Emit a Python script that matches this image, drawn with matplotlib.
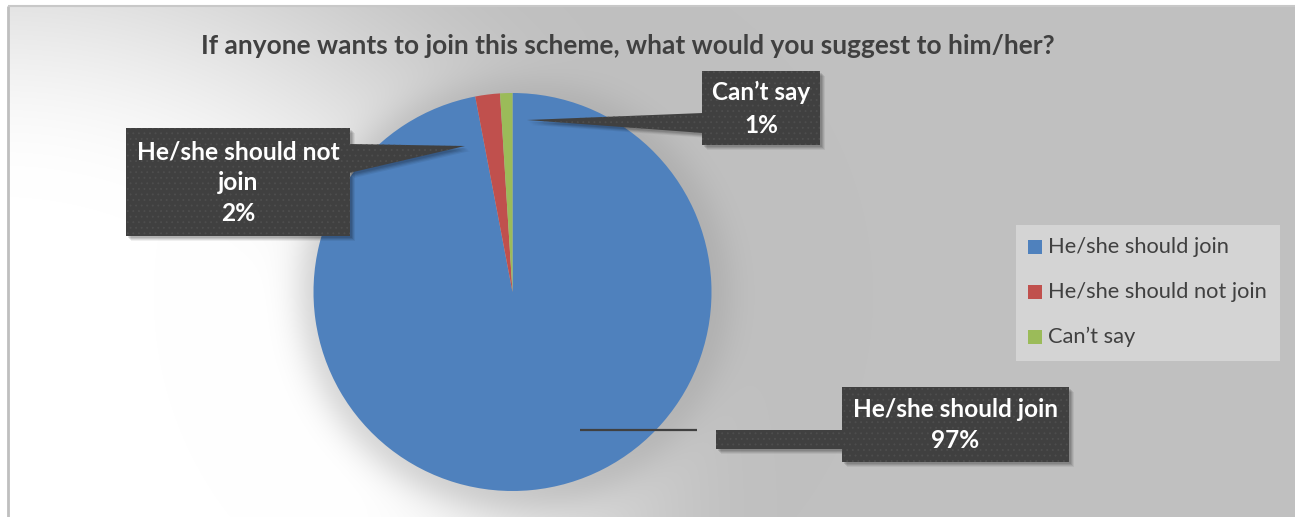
import numpy as np
import matplotlib
matplotlib.use("Agg")
import matplotlib.pyplot as plt
from matplotlib.patches import Rectangle, Polygon

# ---- data ----
categories = ["He/she should join", "He/she should not join", "Can\u2019t say"]
shares = [97, 2, 1]
colors = ["#4f81bd", "#c0504d", "#9bbb59"]
title = "If anyone wants to join this scheme, what would you suggest to him/her?"

W, H = 1295, 517
FONT = "Lato"
BOX = "#404040"


def Y(py):
    """Convert a top-down pixel row into the axes' bottom-up coordinate."""
    return H - py


fig = plt.figure(figsize=(W / 100, H / 100), dpi=100)
fig.patch.set_facecolor("white")
ax = fig.add_axes([0, 0, 1, 1])
ax.set_xlim(0, W)
ax.set_ylim(0, H)

# ---- background: light corner at bottom-left fading to gray, with pie shadow ----
cx, cy, R = 512.5, 292.0, 199.0
xs = np.arange(8, W) + 0.5
ys = np.arange(6, H) + 0.5
XX, YY = np.meshgrid(xs, ys)
d = np.hypot(XX / 1.05, (H - YY) * 1.0)
t = np.clip((d - 320) / 420, 0, 1)
t = t * t * (3 - 2 * t)
base = 255 - 63 * t
r = np.hypot(XX - cx - 2, YY - cy - 3)
halo = np.where(r > R - 5, np.exp(-((r - (R - 5)) / 28.0) ** 2), 1.0)
val = base - 38 * halo * (base - 150) / 105
val = np.clip(val, 0, 255) / 255.0
img = np.dstack([val, val, val])
ax.imshow(img, extent=[8, W, Y(H), Y(6)], origin="upper", zorder=0,
          interpolation="bilinear", aspect="auto")

# frame of the chart area
ax.plot([8, 8], [Y(6), Y(H)], color="#bfbfbf", lw=2, zorder=1, solid_capstyle="butt")
ax.plot([8, W], [Y(6), Y(6)], color="#c8c8c8", lw=1.5, zorder=1, solid_capstyle="butt")

# ---- pie ----
ax.pie(shares, colors=colors, startangle=90, counterclock=False,
       center=(cx, Y(cy)), radius=R, frame=True,
       wedgeprops=dict(linewidth=0, antialiased=True))
for w in ax.patches:
    w.set_zorder(2)

texts_to_fit = []

# ---- title ----
tt = ax.text(627.5, Y(46), title, ha="center", va="center", fontsize=16,
             fontweight="bold", color="#404040", family=FONT, zorder=5)
texts_to_fit.append((tt, 855))


# ---- callout labels ----
def shadowed(patch_fn):
    for dx, dy, a in [(5, 5, 0.06), (4, 4, 0.08), (3, 3, 0.10), (2, 2, 0.10)]:
        ax.add_patch(patch_fn(dx, dy, dict(facecolor="black", edgecolor="none",
                                            alpha=a, zorder=3)))
    ax.add_patch(patch_fn(0, 0, dict(facecolor=BOX, edgecolor="#4e4e4e", lw=0,
                                     hatch="...", zorder=4)))


def box(x0, y0, x1, y1):
    return lambda dx, dy, st: Rectangle((x0 + dx, Y(y1 + dy)), x1 - x0, y1 - y0, **st)


def poly(pts):
    return lambda dx, dy, st: Polygon([(px + dx, Y(py + dy)) for px, py in pts],
                                      closed=True, **st)


plt.rcParams["hatch.linewidth"] = 0.6

# "should not join"
shadowed(poly([(349, 144), (465, 146), (349, 173)]))
shadowed(box(126, 128, 350, 236))
t1 = ax.text(238, Y(183), f"He/she should not\njoin\n{shares[1]}%", ha="center",
             va="center", fontsize=15, fontweight="bold", color="white",
             family=FONT, linespacing=1.42, zorder=6)
texts_to_fit.append((t1, 203))

# "can't say"
shadowed(poly([(703, 113), (527, 120), (703, 133)]))
shadowed(box(702, 71, 820, 145))
t2 = ax.text(761, Y(109), f"{categories[2]}\n{shares[2]}%", ha="center", va="center",
             fontsize=15, fontweight="bold", color="white", family=FONT,
             linespacing=1.52, zorder=6)
texts_to_fit.append((t2, 98))

# "should join"
ax.plot([580, 697], [Y(430), Y(430)], color=BOX, lw=1.6, zorder=4, solid_capstyle="butt")
shadowed(box(716, 430, 843, 449))
shadowed(box(842, 387, 1069, 462))
t3 = ax.text(955.5, Y(425), f"{categories[0]}\n{shares[0]}%", ha="center", va="center",
             fontsize=15, fontweight="bold", color="white", family=FONT,
             linespacing=1.43, zorder=6)
texts_to_fit.append((t3, 205))

# ---- legend ----
ax.add_patch(Rectangle((1016, Y(361)), 264, 136, facecolor="#d4d4d4",
                       edgecolor="none", zorder=3))
legend_texts = []
for i, (lab, col) in enumerate(zip(categories, colors)):
    yc = 247 + 45 * i
    ax.add_patch(Rectangle((1028, Y(yc + 7)), 14, 14, facecolor=col,
                           edgecolor="none", zorder=4))
    lt = ax.text(1048, Y(yc), lab, ha="left", va="center", fontsize=13,
                 color="#404040", family=FONT, zorder=5)
    legend_texts.append(lt)
legend_ref = legend_texts[1]
texts_to_fit.append((legend_ref, 219))

# scale font sizes so each label spans its intended width
renderer = fig.canvas.get_renderer()
for _ in range(2):
    for txt, width in texts_to_fit:
        bb = txt.get_window_extent(renderer=renderer)
        txt.set_fontsize(txt.get_fontsize() * width / bb.width)
for lt in legend_texts:
    lt.set_fontsize(legend_ref.get_fontsize())

ax.set_xlim(0, W)
ax.set_ylim(0, H)
ax.set_aspect("auto")
ax.axis("off")

fig.savefig("out.png", dpi=100, facecolor="white")
